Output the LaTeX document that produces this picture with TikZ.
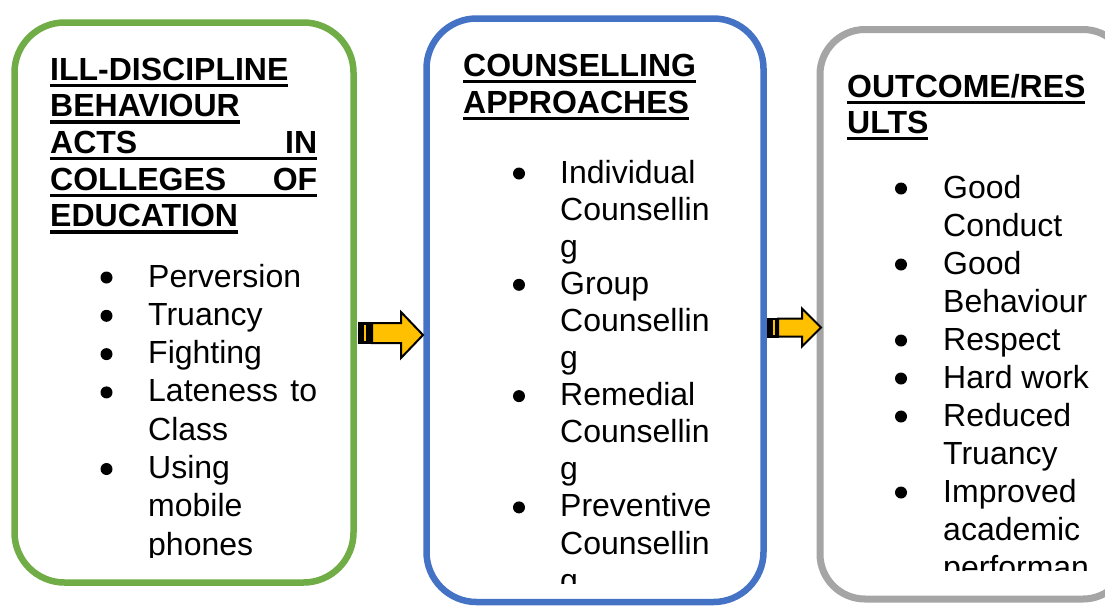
\documentclass[tikz,border=0pt]{standalone}
\usepackage{fontspec}
\setmainfont{Liberation Sans}

% underlined heading line: a heavy rule under the whole box
\newsavebox\ulbox
\newcommand\ulline[1]{\sbox\ulbox{#1}\rlap{\rule[-7pt]{\wd\ulbox}{3.5pt}}\usebox\ulbox}

\definecolor{boxgreen}{HTML}{70AD47}
\definecolor{boxblue}{HTML}{4472C4}
\definecolor{boxgray}{HTML}{A5A5A5}
\definecolor{arrowgold}{HTML}{FFC000}

\tikzset{
  panel/.style={draw, line width=6.5pt, rounded corners=50pt, fill=white, inner sep=0pt},
  head/.style={anchor=base west, inner sep=0pt, font=\fontsize{32pt}{37pt}\selectfont\bfseries},
  item/.style={anchor=base west, inner sep=0pt, font=\fontsize{32pt}{38pt}\selectfont},
  dot/.style={fill=black},
  blockarrow/.style={fill=arrowgold, draw=black, line width=2pt, line join=miter},
}

\begin{document}
\begin{tikzpicture}[x=1pt, y=-1pt]
  \useasboundingbox (0,0) rectangle (1105,606);
  \clip (0,0) rectangle (1105,606);
  \fill[white] (0,0) rectangle (1105,606);

  % the three panels
  \node[panel, draw=boxgreen, minimum width=339pt, minimum height=560pt] (ill) at (184,302.5) {};
  \node[panel, draw=boxblue, minimum width=337pt, minimum height=583.5pt] (coun) at (595,310.25) {};
  \node[panel, draw=boxgray, line width=7pt, rounded corners=45pt, minimum width=308pt, minimum height=569.5pt] (res) at (974,314.25) {};

  % striped block arrows between the panels
  \coordinate (a1) at (358,322);
  \fill (a1) rectangle (373,344);
  \fill[arrowgold] (364,325) rectangle (366,341);
  \draw[blockarrow] (372,323) -- (401,323) -- (401,312) -- (423,335) -- (401,358) -- (401,343) -- (372,343) -- cycle;

  \coordinate (a2) at (766.5,317.5);
  \fill (a2) rectangle (779,337.5);
  \fill[arrowgold] (773,320) rectangle (775,335);
  \draw[blockarrow] (778,318.5) -- (802,318.5) -- (802,308.5) -- (821,327.5) -- (802,346.5) -- (802,336.5) -- (778,336.5) -- cycle;

  % panel 1: heading
  \node[head] (h1a) at (50,80) {\ulline{ILL-DISCIPLINE}};
  \node[head] (h1b) at (50,116.7) {\ulline{BEHAVIOUR}};
  \node[head] (h1c) at (50,153.4) {\ulline{\hbox to 267pt{ACTS\hfill IN}}};
  \node[head] (h1d) at (50,190.1) {\ulline{\hbox to 267pt{COLLEGES\hfill OF}}};
  \node[head] (h1e) at (50,226.8) {\ulline{EDUCATION}};

  % panel 1: list
  \begin{scope}
    \clip (0,0) rectangle (400,557);
    \foreach \t [count=\k from 0] in {Perversion, Truancy, Fighting, \hbox to 169pt{Lateness\hfill to}, Class, Using, mobile, phones}
      \node[item] (l1-\k) at (148,{287+38.3*\k}) {\t};
    \foreach \k in {0,1,2,3,5}
      \fill[dot] (106.5,{287+38.3*\k-9.5}) circle (6);
  \end{scope}

  % panel 2: heading
  \node[head] (h2a) at (463,76) {\ulline{COUNSELLING}};
  \node[head] (h2b) at (463,113) {\ulline{APPROACHES}};

  % panel 2: list
  \begin{scope}
    \clip (400,0) rectangle (800,583);
    \foreach \t [count=\k from 0] in {Individual, Counsellin, g, Group, Counsellin, g, Remedial, Counsellin, g, Preventive, Counsellin, g}
      \node[item] (l2-\k) at (560,{183+37.1*\k}) {\t};
    \foreach \k in {0,3,6,9}
      \fill[dot] (519,{183+37.1*\k-9.5}) circle (6);
  \end{scope}

  % panel 3: heading
  \node[head] (h3a) at (847,97) {\ulline{OUTCOME/RES}};
  \node[head] (h3b) at (847,133) {\ulline{ULTS}};

  % panel 3: list
  \begin{scope}
    \clip (800,0) rectangle (1105,570);
    \foreach \t [count=\k from 0] in {Good, Conduct, Good, Behaviour, Respect, Hard work, Reduced, Truancy, Improved, academic, performan}
      \node[item] (l3-\k) at (943,{198+38*\k}) {\t};
    \foreach \k in {0,2,4,5,6,8}
      \fill[dot] (901,{198+38*\k-9.5}) circle (6);
  \end{scope}
\end{tikzpicture}
\end{document}
